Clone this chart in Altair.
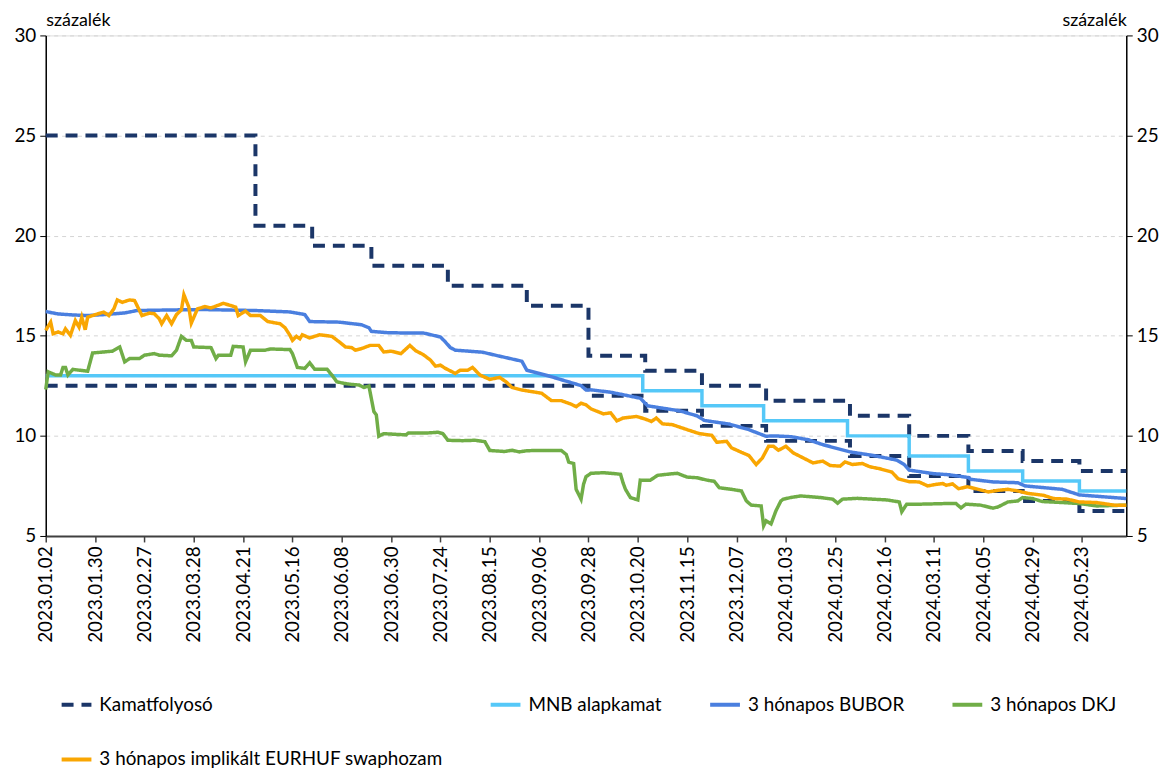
import altair as alt
import pandas as pd

# ---------------- data ----------------
tick_labels = ["2023.01.02", "2023.01.30", "2023.02.27", "2023.03.28", "2023.04.21",
               "2023.05.16", "2023.06.08", "2023.06.30", "2023.07.24", "2023.08.15",
               "2023.09.06", "2023.09.28", "2023.10.20", "2023.11.15", "2023.12.07",
               "2024.01.03", "2024.01.25", "2024.02.16", "2024.03.11", "2024.04.05",
               "2024.04.29", "2024.05.23"]
tick_step = 20          # trading days between labelled ticks
last_day = 438          # index of last trading day shown

S_CORR = "Kamatfolyosó"
S_BASE = "MNB alapkamat"
S_BUBOR = "3 hónapos BUBOR"
S_DKJ = "3 hónapos DKJ"
S_SWAP = "3 hónapos implikált EURHUF swaphozam"
series_names = [S_CORR, S_BASE, S_BUBOR, S_DKJ, S_SWAP]
series_colors = ["#1B3668", "#55C8F8", "#4A7FDF", "#70AD47", "#F9A602"]

# step series: day index where a new level starts, level
corr_upper_day = [0, 85, 108, 132, 163, 195, 220, 243, 266, 292, 326, 350, 374, 396, 419, 438]
corr_upper_val = [25, 20.5, 19.5, 18.5, 17.5, 16.5, 14, 13.25, 12.5, 11.75, 11, 10, 9.25, 8.75, 8.25, 8.25]
corr_lower_day = [0, 220, 243, 266, 292, 326, 350, 374, 396, 419, 438]
corr_lower_val = [12.5, 12, 11.25, 10.5, 9.75, 9, 8, 7.25, 6.75, 6.25, 6.25]
base_day = [0, 242, 266, 291, 325, 350, 374, 396, 419, 438]
base_val = [13, 12.25, 11.5, 10.75, 10, 9, 8.25, 7.75, 7.25, 7.25]

bubor_day = [0, 5, 11, 17, 24, 32, 37, 51, 64, 72, 85, 99, 105, 107, 119, 128, 131, 132, 139,
             146, 153, 160, 162, 164, 166, 177, 184, 193, 195, 204, 217, 219, 221, 229, 241,
             244, 257, 264, 267, 277, 285, 292, 295, 302, 309, 315, 326, 335, 345, 348, 350,
             360, 366, 374, 375, 384, 394, 397, 412, 419, 438]
bubor_val = [16.21, 16.09, 16.04, 16.01, 16.06, 16.14, 16.26, 16.29, 16.31, 16.29, 16.26, 16.19,
             16.06, 15.71, 15.68, 15.55, 15.40, 15.22, 15.15, 15.14, 15.14, 14.94, 14.69, 14.41,
             14.28, 14.18, 13.98, 13.73, 13.28, 12.99, 12.51, 12.29, 12.30, 12.18, 11.88, 11.50,
             11.25, 11.00, 10.77, 10.59, 10.31, 9.98, 10.00, 9.96, 9.81, 9.56, 9.20, 9.03, 8.79,
             8.57, 8.29, 8.11, 8.06, 7.92, 7.83, 7.70, 7.66, 7.50, 7.33, 7.05, 6.87]

dkj_day = [0, 1, 4, 6, 7, 8, 9, 11, 17, 19, 27, 30, 32, 34, 38, 40, 44, 46, 51, 53, 55, 57, 59,
           60, 67, 69, 70, 75, 76, 80, 81, 83, 89, 91, 99, 100, 102, 105, 107, 109, 114, 116,
           118, 121, 124, 127, 129, 131, 133, 134, 135, 137, 146, 147, 154, 159, 161, 163, 169,
           174, 178, 180, 186, 189, 192, 195, 200, 209, 211, 212, 214, 215, 217, 218, 219, 221,
           226, 231, 233, 234, 235, 237, 240, 241, 245, 248, 254, 256, 260, 264, 268, 271, 273,
           278, 282, 284, 286, 290, 291, 292, 294, 296, 298, 299, 302, 306, 314, 319, 321, 323,
           329, 341, 346, 347, 349, 355, 365, 369, 371, 373, 379, 384, 386, 390, 394, 396, 400,
           404, 412, 419, 426, 438]
dkj_val = [12.32, 13.2, 13.04, 13.04, 13.42, 13.42, 13.04, 13.32, 13.23, 14.14, 14.23, 14.44,
           13.70, 13.86, 13.86, 14.03, 14.11, 14.03, 14.00, 14.28, 14.97, 14.77, 14.77, 14.44,
           14.41, 13.86, 14.03, 14.03, 14.47, 14.44, 13.70, 14.28, 14.28, 14.34, 14.31, 14.11,
           13.42, 13.37, 13.65, 13.33, 13.33, 13.04, 12.70, 12.62, 12.57, 12.54, 12.42, 12.49,
           11.22, 11.05, 9.98, 10.11, 10.05, 10.14, 10.14, 10.18, 10.11, 9.78, 9.76, 9.78, 9.71,
           9.27, 9.22, 9.28, 9.20, 9.26, 9.27, 9.27, 9.07, 8.69, 8.62, 7.33, 6.84, 7.58, 7.96,
           8.13, 8.16, 8.11, 8.08, 7.66, 7.33, 6.92, 6.80, 7.79, 7.78, 8.03, 8.11, 8.13, 7.94,
           7.91, 7.79, 7.73, 7.41, 7.33, 7.25, 6.75, 6.54, 6.50, 5.51, 5.76, 5.60, 6.26, 6.75,
           6.84, 6.92, 7.00, 6.92, 6.84, 6.64, 6.84, 6.88, 6.80, 6.70, 6.21, 6.59, 6.59, 6.62,
           6.62, 6.40, 6.59, 6.54, 6.39, 6.45, 6.70, 6.75, 6.92, 6.87, 6.72, 6.67, 6.62, 6.50,
           6.54]

swap_day = [0, 2, 3, 5, 7, 8, 10, 12, 13.5, 14.6, 16, 17, 21, 23.5, 25.6, 27.6, 29, 31, 34, 36,
            39, 42, 44, 46, 47, 49, 51, 53, 55, 56, 58, 59, 61.5, 64.5, 67, 72, 75, 77, 78, 81,
            83, 87, 90, 95, 97, 99, 100, 101.6, 103, 104, 107, 111, 116, 119, 121.5, 124, 125.5,
            128, 131.5, 135, 137, 140, 144, 147.6, 150, 153, 156, 158, 160, 162, 166, 168, 171,
            173, 176, 180, 184, 186.5, 189, 193, 197, 201, 205, 209, 213, 215, 217, 219, 221,
            224, 226, 229, 231.5, 234, 239.5, 243, 245.5, 247.5, 250, 254, 260, 265, 270, 272,
            276, 278, 282, 285, 288, 290.5, 293, 295, 297, 300, 303, 307, 311, 315, 318, 322,
            324, 327, 331, 334, 338, 343, 345.5, 350, 354, 357.5, 361, 363.6, 365, 367.6, 370,
            373.6, 378, 382, 386, 390, 394, 398, 404.5, 408.5, 414, 419, 426, 433, 438]
swap_val = [15.27, 15.68, 15.10, 15.19, 15.10, 15.35, 15.02, 15.76, 15.43, 15.93, 15.30, 15.93,
            16.09, 16.18, 16.01, 16.34, 16.79, 16.67, 16.79, 16.76, 16.01, 16.13, 16.10, 15.85,
            15.60, 16.01, 15.60, 16.06, 16.29, 17.05, 16.43, 15.63, 16.34, 16.46, 16.39, 16.62,
            16.51, 16.43, 16.01, 16.23, 16.01, 16.01, 15.71, 15.60, 15.40, 15.02, 14.77, 14.97,
            14.85, 15.05, 14.89, 15.05, 14.97, 14.69, 14.44, 14.41, 14.28, 14.36, 14.52, 14.52,
            14.19, 14.23, 14.11, 14.52, 14.25, 14.06, 13.78, 13.48, 13.53, 13.37, 13.12, 13.28,
            13.28, 13.42, 13.04, 12.82, 12.92, 12.71, 12.42, 12.29, 12.21, 12.13, 11.76, 11.76,
            11.58, 11.46, 11.63, 11.55, 11.35, 11.20, 11.10, 11.15, 10.75, 10.89, 10.97, 10.84,
            10.72, 10.89, 10.60, 10.56, 10.31, 10.11, 10.03, 9.68, 9.73, 9.40, 9.18, 9.02, 8.57,
            8.90, 9.48, 9.48, 9.28, 9.48, 9.15, 8.90, 8.65, 8.74, 8.52, 8.49, 8.70, 8.57, 8.62,
            8.46, 8.36, 8.19, 7.86, 7.71, 7.70, 7.50, 7.58, 7.62, 7.53, 7.60, 7.36, 7.46, 7.33,
            7.20, 7.28, 7.33, 7.25, 7.13, 7.03, 6.87, 6.84, 6.70, 6.67, 6.54, 6.54]

y_ticks = [5, 10, 15, 20, 25, 30]

# ---------------- table ----------------
rows = []
def add(name, part, days, vals):
    for d, v in zip(days, vals):
        rows.append({"day": d, "value": v, "series": name, "part": part})

add(S_CORR, "upper", corr_upper_day, corr_upper_val)
add(S_CORR, "lower", corr_lower_day, corr_lower_val)
add(S_BASE, "base", base_day, base_val)
add(S_BUBOR, "bubor", bubor_day, bubor_val)
add(S_DKJ, "dkj", dkj_day, dkj_val)
add(S_SWAP, "swap", swap_day, swap_val)
df = pd.DataFrame(rows)

FONT = "Lato"
label_arr = "[" + ",".join("'" + t + "'" for t in tick_labels) + "]"

x_enc = alt.X(
    "day:Q",
    scale=alt.Scale(domain=[0, last_day], nice=False, zero=False),
    axis=alt.Axis(
        values=[i * tick_step for i in range(len(tick_labels))],
        labelExpr=label_arr + "[round(datum.value/" + str(tick_step) + ")]",
        labelAngle=270, labelFont=FONT, labelFontSize=19, labelColor="#000000",
        labelPadding=4, tickSize=6, tickColor="#404040", tickWidth=1.5,
        domainColor="#404040", domainWidth=2, grid=False, title=None,
        labelOverlap=False,
    ),
)

legend = alt.Legend(
    orient="none", legendX=14, legendY=657, direction="horizontal", columns=4,
    gridAlign="each", symbolType="stroke", symbolSize=900, symbolStrokeWidth=4,
    labelFont=FONT, labelFontSize=19, labelColor="#000000", labelOffset=6,
    columnPadding=40, rowPadding=28, title=None, padding=0, labelLimit=600,
)

color_enc = alt.Color("series:N", scale=alt.Scale(domain=series_names, range=series_colors),
                      legend=legend)
dash_enc = alt.StrokeDash("series:N",
                          scale=alt.Scale(domain=series_names,
                                          range=[[12, 8], [1, 0], [1, 0], [1, 0], [1, 0]]),
                          legend=legend)

y_scale = alt.Scale(domain=[5, 30], nice=False, zero=False)
y_left = alt.Y("value:Q", scale=y_scale, axis=alt.Axis(
    values=y_ticks, grid=True, gridDash=[4, 4], gridColor="#D4D4D4", gridWidth=1,
    domainColor="#000000", domainWidth=1.5, tickColor="#000000", tickSize=6,
    labelFont=FONT, labelFontSize=19, labelColor="#000000", labelPadding=4,
    title="százalék", titleAngle=0, titleX=0, titleY=-10, titleAlign="left",
    titleBaseline="alphabetic", titleFont=FONT, titleFontSize=18,
    titleFontWeight="normal", titleColor="#000000"))
y_right = alt.Y("value:Q", scale=y_scale, axis=alt.Axis(
    orient="right", values=y_ticks, grid=False,
    domainColor="#000000", domainWidth=1.5, tickColor="#000000", tickSize=6,
    labelFont=FONT, labelFontSize=19, labelColor="#000000", labelPadding=4,
    title="százalék", titleAngle=0, titleX=0, titleY=-10, titleAlign="right",
    titleBaseline="alphabetic", titleFont=FONT, titleFontSize=18,
    titleFontWeight="normal", titleColor="#000000"))
y_none = alt.Y("value:Q", scale=y_scale, axis=None)

base = alt.Chart(df)

def layer(name, y, interp, width):
    return base.transform_filter(alt.datum.series == name).mark_line(
        interpolate=interp, strokeWidth=width, strokeCap="butt", strokeJoin="miter"
    ).encode(x=x_enc, y=y, color=color_enc, strokeDash=dash_enc, detail="part:N")

chart = alt.layer(
    layer(S_CORR, y_left, "step-after", 4),
    layer(S_BASE, y_right, "step-after", 3.5),
    layer(S_BUBOR, y_none, "linear", 3.5),
    layer(S_DKJ, y_none, "linear", 3.5),
    layer(S_SWAP, y_none, "linear", 3.5),
).resolve_axis(y="independent").properties(
    width=1088, height=504,
    autosize=alt.AutoSizeParams(type="none"),
    padding={"left": 38, "top": 25, "right": 40, "bottom": 232},
).configure_view(stroke=None).configure(font=FONT)

chart.save("out.html", embed_options={"renderer": "svg", "actions": False})
